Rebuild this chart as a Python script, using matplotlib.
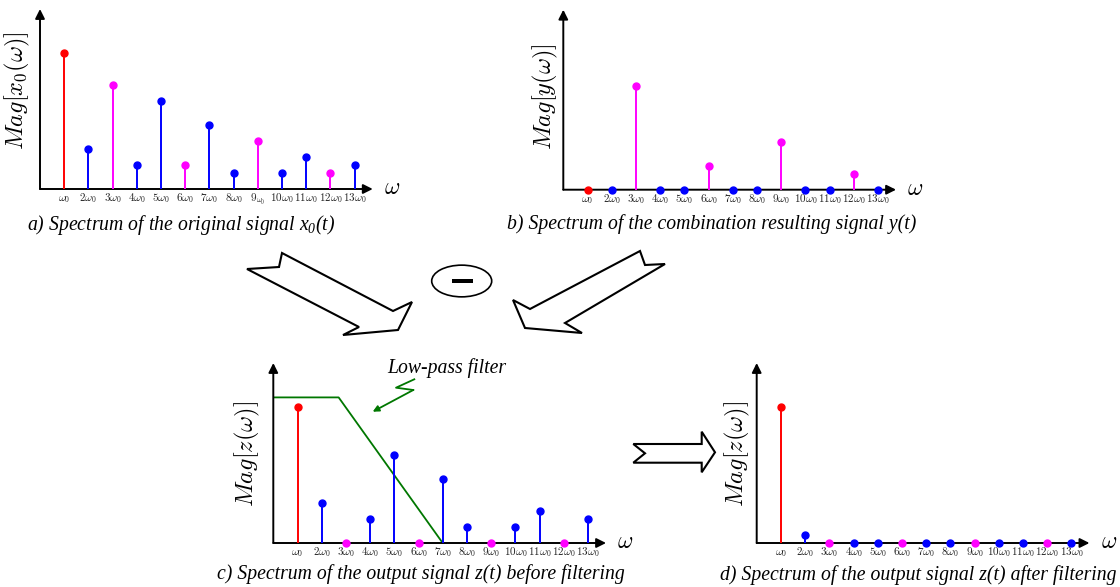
import numpy as np
import matplotlib.pyplot as plt
from matplotlib.patches import Polygon, Ellipse, Rectangle, FancyArrowPatch
from matplotlib.lines import Line2D

plt.rcParams['mathtext.fontset'] = 'cm'
plt.rcParams['mathtext.rm'] = 'Liberation Serif:italic'
plt.rcParams['mathtext.it'] = 'Liberation Serif:italic'

W, H = 1120, 587

# spectrum data (harmonics 1..13 of w0)
harmonics = np.arange(1, 14)
x0_mag = [17, 5, 13, 3, 11, 3, 8, 2, 6, 2, 4, 2, 3]
y_mag = [0, 0, 13, 0, 0, 3, 0, 0, 6, 0, 0, 2, 0]
z_mag = [17, 5, 0, 3, 11, 0, 8, 2, 0, 2, 4, 0, 3]
z_filt_mag = [17, 1, 0, 0, 0, 0, 0, 0, 0, 0, 0, 0, 0]

# low-pass filter shape
filter_w = [0, 2.7, 7.0]
filter_gain = [18.2, 18.2, 0]

tick_labels = [r'$\omega_0$', r'$2\omega_0$', r'$3\omega_0$', r'$4\omega_0$',
               r'$5\omega_0$', r'$6\omega_0$', r'$7\omega_0$', r'$8\omega_0$',
               r'$9\omega_0$', r'$10\omega_0$', r'$11\omega_0$', r'$12\omega_0$',
               r'$13\omega_0$']
tick_labels_a = list(tick_labels)
tick_labels_a[8] = r'$9_{\omega_0}$'

XSTEP = 24.2   # px per harmonic
YSTEP = 8.0    # px per magnitude unit

serif_it = dict(family='Liberation Serif', style='italic', fontsize=14.2)


def px(x, y):
    return (x / W, 1 - y / H)


def harm_color(n):
    if n == 1:
        return '#ff0000'
    if n % 3 == 0:
        return '#ff00ff'
    return '#0000ff'


def panel(fig, ox, oy, mags, labels):
    ax = fig.add_axes([ox / W, 1 - oy / H, 14 * XSTEP / W, 23 * YSTEP / H])
    ax.set_xlim(0, 14)
    ax.set_ylim(0, 23)
    ax.patch.set_visible(False)
    for s in ax.spines.values():
        s.set_visible(False)
    ax.set_yticks([])
    ax.set_xticks(harmonics, labels)
    ax.tick_params(axis='x', length=0, pad=9, labelsize=8, labelcolor='#222222')
    for lbl in ax.get_xticklabels():
        lbl.set_math_fontfamily('cm')
        lbl.set_verticalalignment('baseline')

    arr = dict(arrowstyle='-|>', color='k', lw=1.4, mutation_scale=14,
               shrinkA=0, shrinkB=0)
    ax.annotate('', xy=(13.75, 0), xytext=(0, 0), arrowprops=arr,
                annotation_clip=False)
    ax.annotate('', xy=(0, 22.5), xytext=(0, 0), arrowprops=arr,
                annotation_clip=False)
    ax.annotate(r'$\omega$', xy=(13.75, 0), xytext=(8, 1.5),
                textcoords='offset points', ha='left', va='center',
                fontsize=17, annotation_clip=False)

    for n, m in zip(harmonics, mags):
        c = harm_color(n)
        if m > 0:
            ax.vlines(n, 0, m, color=c, lw=1.4, zorder=3)
        ax.plot(n, m, 'o', color=c, ms=5, zorder=4, clip_on=False)
    return ax


fig = plt.figure(figsize=(W / 100, H / 100), dpi=100)

ax_a = panel(fig, 40, 189, x0_mag, tick_labels_a)
ax_b = panel(fig, 563.3, 189.7, y_mag, tick_labels)
ax_c = panel(fig, 273.3, 543, z_mag, tick_labels)
ax_d = panel(fig, 756.7, 543, z_filt_mag, tick_labels)

ax_c.plot(filter_w, filter_gain, color='#007700', lw=1.3, zorder=2)

# y labels
ylabs = [(17, 150, r'$Mag[x_0(\omega)]$'), (545, 150, r'$Mag[y(\omega)]$'),
         (247, 507, r'$Mag[z(\omega)]$'), (737, 507, r'$Mag[z(\omega)]$')]
for x, y, t in ylabs:
    fig.text(*px(x, y), t, rotation=90, ha='center', va='bottom', fontsize=17.5)

# captions
t = fig.text(*px(181, 225), r'a) Spectrum of the original signal $x_0(t)$',
             ha='center', va='center', **serif_it)
t.set_math_fontfamily('custom')
fig.text(*px(712, 224), 'b) Spectrum of the combination resulting signal y(t)',
         ha='center', va='center', **serif_it)
fig.text(*px(421, 574), 'c) Spectrum of the output signal z(t) before filtering',
         ha='center', va='center', **serif_it)
fig.text(*px(918, 575), 'd) Spectrum of the output signal z(t) after filtering',
         ha='center', va='center', **serif_it)

# low-pass filter note
fig.text(*px(447, 368), 'Low-pass filter', ha='center', va='center', **serif_it)
zig = [(414.3, 379.3), (396, 387.7), (413.3, 390)]
fig.add_artist(Line2D([px(*p)[0] for p in zig], [px(*p)[1] for p in zig],
                      color='#007700', lw=1.3, transform=fig.transFigure))
fig.add_artist(FancyArrowPatch(
    px(413.3, 390), px(372.7, 411.7), arrowstyle='-|>', mutation_scale=9,
    color='#007700', lw=1.3, transform=fig.transFigure, shrinkA=0, shrinkB=0))

# block arrows
left_arrow = [(247, 269), (279, 267), (282, 253), (393, 311), (412, 302),
              (398, 330), (343, 335), (359, 327)]
right_arrow = [(640, 251), (645, 265), (665, 264), (565, 323), (582, 333),
               (525, 328), (513, 300), (530, 309)]
mid_arrow = [(633.3, 444), (701.7, 444), (701.7, 431.7), (715, 452.3),
             (701.7, 472.3), (701.7, 462.7), (633.3, 462.7), (645, 453.3)]
for pts in (left_arrow, right_arrow, mid_arrow):
    fig.add_artist(Polygon([px(*p) for p in pts], closed=True, fc='white',
                           ec='black', lw=1.5, transform=fig.transFigure))

# minus sign in ellipse
fig.add_artist(Ellipse(px(461.7, 281), 60 / W, 31.7 / H, fc='white', ec='black',
                       lw=1.2, transform=fig.transFigure))
fig.add_artist(Rectangle(px(451.7, 282.8), 21 / W, 3.6 / H, fc='black',
                         ec='none', transform=fig.transFigure))

fig.savefig('out.png', dpi=100)
